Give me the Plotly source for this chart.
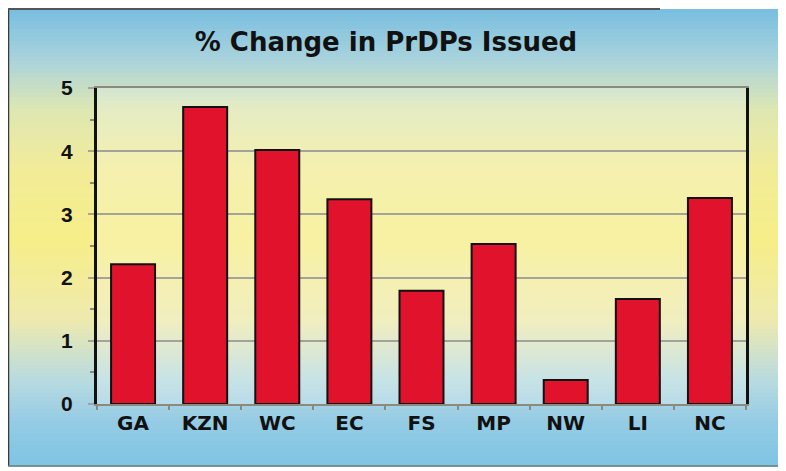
import plotly.graph_objects as go

categories = ["GA", "KZN", "WC", "EC", "FS", "MP", "NW", "LI", "NC"]
values = [2.21, 4.70, 4.02, 3.24, 1.79, 2.53, 0.38, 1.66, 3.26]
title_text = "% Change in PrDPs Issued"

OFF = 8  # page body margin
W, H = 786 - OFF, 471 - OFF
L, R, T, B = 97, 746, 88, 404  # plot area in window pixels

def px_x(p):
    return (p - L) / (R - L)

def px_y(p):
    return (B - p) / (B - T)

# background gradient stops (window pixel y, rgb)
stops = [
    (9, (120, 190, 224)),
    (60, (170, 211, 220)),
    (110, (222, 231, 178)),
    (170, (242, 236, 152)),
    (240, (246, 238, 136)),
    (320, (238, 234, 174)),
    (380, (184, 219, 224)),
    (420, (150, 204, 228)),
    (466, (126, 196, 228)),
]

def color_at(y):
    for (y0, c0), (y1, c1) in zip(stops[:-1], stops[1:]):
        if y0 <= y <= y1:
            t = (y - y0) / (y1 - y0)
            return "rgb(%d,%d,%d)" % tuple(round(a + (b - a) * t) for a, b in zip(c0, c1))
    return "rgb(%d,%d,%d)" % stops[-1][1]

shapes = []
y = 9
step = 4
while y < 466:
    y2 = min(y + step, 466)
    shapes.append(dict(type="rect", xref="paper", yref="paper", layer="below",
                       x0=px_x(7), x1=px_x(820), y0=px_y(y2 + 0.5), y1=px_y(y),
                       fillcolor=color_at((y + y2) / 2), line=dict(width=0)))
    y = y2
# lighter plot area
shapes.append(dict(type="rect", xref="paper", yref="paper", layer="below",
                   x0=0, x1=1, y0=0, y1=1, fillcolor="rgba(255,255,255,0.22)",
                   line=dict(width=0)))
# outer frame lines
shapes.append(dict(type="line", xref="paper", yref="paper", x0=px_x(8), x1=px_x(8),
                   y0=px_y(466), y1=px_y(8), line=dict(color="#3a3a3a", width=2.5)))
shapes.append(dict(type="line", xref="paper", yref="paper", x0=px_x(8), x1=px_x(660),
                   y0=px_y(9), y1=px_y(9), line=dict(color="#555555", width=2)))
shapes.append(dict(type="line", xref="paper", yref="paper", x0=px_x(8), x1=px_x(820),
                   y0=px_y(466), y1=px_y(466), line=dict(color="#6a7a80", width=1.5)))

fig = go.Figure()
fig.add_trace(go.Bar(
    x=categories, y=values,
    marker=dict(color="#e1122b", line=dict(color="#111111", width=2)),
    width=0.61,
))

fig.update_layout(
    width=W, height=H,
    margin=dict(l=L - OFF, r=W - (R - OFF), t=T - OFF, b=H - (B - OFF)),
    paper_bgcolor="white",
    plot_bgcolor="rgba(0,0,0,0)",
    showlegend=False,
    shapes=shapes,
    title=dict(text="<b>" + title_text + "</b>", x=(386 - OFF) / W,
               xanchor="center", xref="container", y=1 - (42 - OFF) / H, yanchor="middle",
               yref="container",
               font=dict(family="DejaVu Sans", size=26, color="#111111")),
    font=dict(family="Liberation Sans", color="#111111"),
)

fig.update_yaxes(
    range=[0, 5], dtick=1, tick0=0,
    showgrid=True, gridcolor="#a3a39a", gridwidth=2,
    showline=True, linecolor="#111111", linewidth=3, mirror=True,
    ticks="outside", ticklen=6, tickcolor="#a3a39a", tickwidth=2,
    minor=dict(dtick=0.5, ticks="outside", ticklen=4, tickcolor="#888888", showgrid=False),
    tickfont=dict(family="Liberation Sans", size=21, color="#111111"),
    ticklabelstandoff=11,
    zeroline=False,
    tickprefix="<b>", ticksuffix="</b>",
)
fig.update_xaxes(
    showline=True, linecolor="#8a8a80", linewidth=2, mirror=True,
    ticks="outside", tickson="boundaries", ticklen=4, tickcolor="#8a8a80", tickwidth=1.5,
    tickfont=dict(family="DejaVu Sans", size=20, color="#111111"),
    tickprefix="<b>", ticksuffix="</b>",
    showgrid=False,
)

fig.write_html("out.html")
